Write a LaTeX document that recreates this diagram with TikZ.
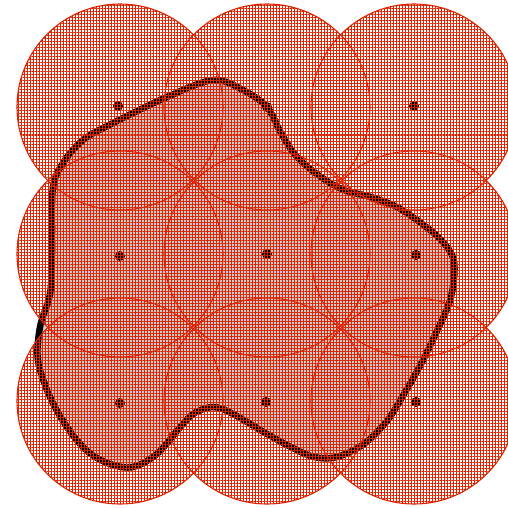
\documentclass[tikz,border=0pt]{standalone}
\usetikzlibrary{patterns.meta}
\definecolor{rred}{RGB}{221,34,0}
\definecolor{regiongray}{RGB}{205,205,205}
\tikzset{
  cover/.style={pattern={Hatch[angle=0,distance=3pt,line width=1pt]},pattern color=rred,fill opacity=0.85},
  rim/.style={draw=rred,line width=1.1pt},
  sensor/.style={fill=black},
  region/.style={fill=regiongray,draw=black,line width=6.5pt,line join=round}
}
\begin{document}
\begin{tikzpicture}[x=1pt,y=-1pt]
\useasboundingbox (0,0) rectangle (508,507);
% region
\draw[region] plot[smooth cycle,tension=0.55] coordinates {
 (213,80) (243,90) (267,107) (281,133) (297,157) (321,177) (344,190) (371,197)
 (397,207) (421,223) (441,240) (454,261) (451,297) (437,331) (421,364) (404,394)
 (387,421) (364,444) (337,457) (314,457) (291,447) (267,434) (233,414) (213,407)
 (193,414) (177,431) (157,454) (133,467) (110,464) (87,451) (67,427) (50,397)
 (38,361) (40,327) (50,294) (52,254) (52,233) (53,187) (63,163) (83,140)
 (113,123) (167,97)};
% sensors
\foreach \p/\q in {118/106,267/107,414/106,120/256,267/254,416/255,120/403,266/402,416/402}
  \fill[sensor] (\p,\q) circle (5);
% coverage discs
\foreach \cx in {120,267,414}
  \foreach \cy in {107,254,401}
    \fill[cover] (\cx,\cy) circle (103);
\foreach \cx in {120,267,414}
  \foreach \cy in {107,254,401}
    \draw[rim] (\cx,\cy) circle (103);
\end{tikzpicture}
\end{document}
